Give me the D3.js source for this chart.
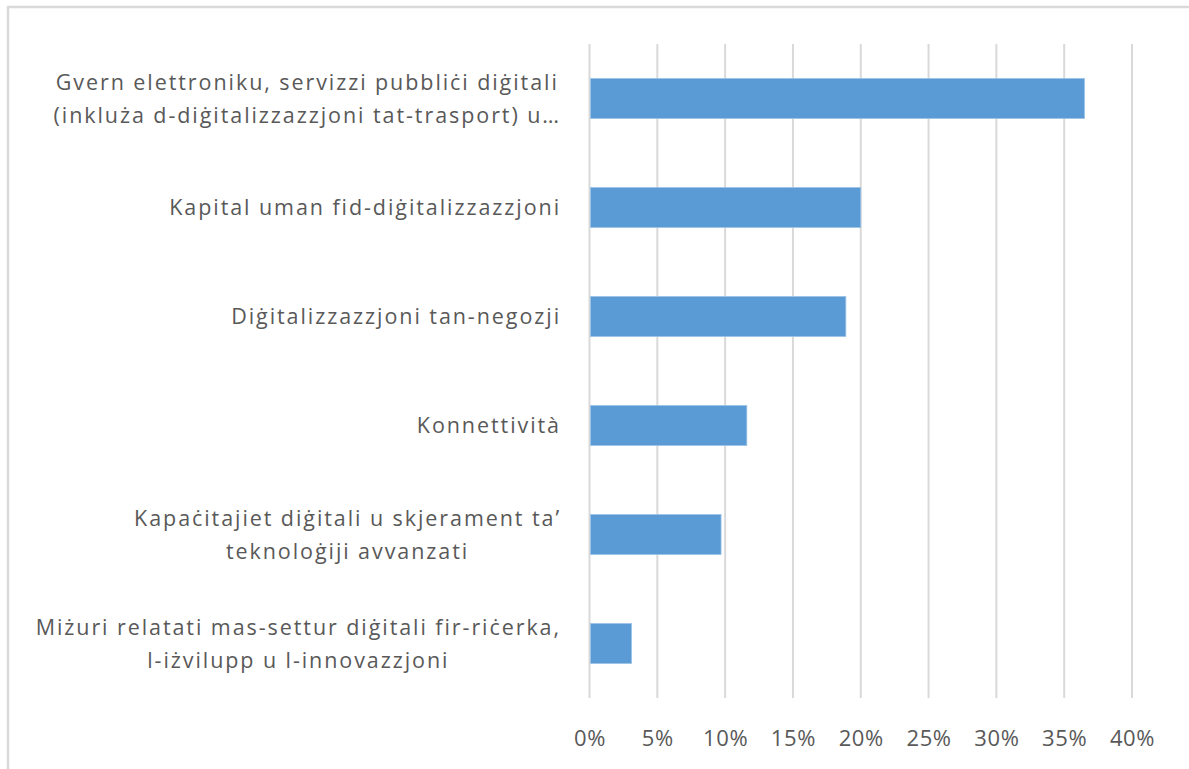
<!DOCTYPE html>
<html><head><meta charset="utf-8">
<script src="https://cdn.jsdelivr.net/npm/d3@7"></script>
<style>body{margin:0;background:#fff}svg{display:block}</style>
</head><body>
<svg id="c" width="1189" height="769"></svg>
<script>
const categories = [
  ["Gvern elettroniku, servizzi pubbliċi diġitali", "(inkluża d-diġitalizzazzjoni tat-trasport) u…"],
  ["Kapital uman fid-diġitalizzazzjoni"],
  ["Diġitalizzazzjoni tan-negozji"],
  ["Konnettività"],
  ["Kapaċitajiet diġitali u skjerament ta’", "teknoloġiji avvanzati"],
  ["Miżuri relatati mas-settur diġitali fir-riċerka,", "l-iżvilupp u l-innovazzjoni"]
];
const values = [36.5, 20.0, 18.9, 11.6, 9.7, 3.1];
const ticks = [0, 5, 10, 15, 20, 25, 30, 35, 40];

const svg = d3.select("#c");
const font = "'Open Sans', sans-serif";
const textColor = "#595959";

// outer border
svg.append("rect").attr("x", 8).attr("y", 7).attr("width", 1300).attr("height", 900)
  .attr("fill", "#fff").attr("stroke", "#d9d9d9").attr("stroke-width", 2.5);

const x = d3.scaleLinear().domain([0, 40]).range([589.5, 1132]);
const y = d3.scaleBand().domain(d3.range(categories.length)).range([44, 698]).paddingInner(0.633).paddingOuter(0.3165);

// gridlines
svg.append("g").selectAll("line").data(ticks).join("line")
  .attr("x1", d => x(d)).attr("x2", d => x(d))
  .attr("y1", 44).attr("y2", 698)
  .attr("stroke", "#d9d9d9").attr("stroke-width", 2);

// bars
svg.append("g").selectAll("rect").data(values).join("rect")
  .attr("x", x(0) + 1).attr("y", (d, i) => y(i))
  .attr("width", d => x(d) - x(0) - 1).attr("height", y.bandwidth())
  .attr("fill", "#5b9bd5").attr("stroke", "#9cc2e5").attr("stroke-width", 0.8);

// x tick labels
const xAxis = d3.axisBottom(x).tickValues(ticks).tickFormat(d => d + "%").tickSize(0);
const ax = svg.append("g").attr("transform", "translate(0,727)").call(xAxis);
ax.select(".domain").remove();
ax.selectAll("text").attr("font-family", font).attr("font-size", 22).attr("fill", textColor)
  .attr("letter-spacing", 0.6);

// category labels
const lineH = 33;
const fs = 21.5;
const lg = svg.append("g");
// letter spacing to match the reference label width
const probe = lg.append("text").text(categories[0][0]).attr("font-family", font).attr("font-size", fs);
const pw = probe.node().getComputedTextLength();
const ls = Math.max(0, (503 - pw) / categories[0][0].length);
probe.remove();
categories.forEach((lines, i) => {
  const cy = y(i) + y.bandwidth() / 2;
  const g = lg.append("g");
  const texts = lines.map((t, k) => g.append("text").text(t)
    .attr("font-family", font).attr("font-size", fs).attr("fill", textColor)
    .attr("letter-spacing", ls)
    .attr("text-anchor", "middle")
    .attr("y", cy + (k - (lines.length - 1) / 2) * lineH)
    .attr("dy", "0.35em"));
  const w = d3.max(texts, t => t.node().getComputedTextLength());
  texts.forEach(t => t.attr("x", 561 - w / 2));
});
</script>
</body></html>
